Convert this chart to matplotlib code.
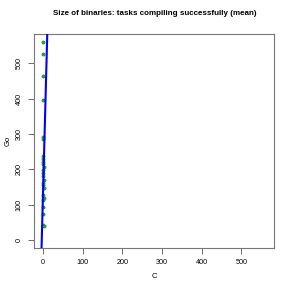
import numpy as np
import matplotlib
matplotlib.use("Agg")
import matplotlib.pyplot as plt

plt.rcParams['font.family'] = ['Liberation Sans', 'DejaVu Sans']

# size of binaries (mean), one point per task
go_size = [559, 527, 465, 395, 291, 285, 238, 230, 222, 214, 206, 198, 190, 182,
           170, 162, 155, 148, 128, 120, 112, 94, 75, 42, 40]
c_size = [1.2, 1.0, 1.3, 1.1, 1.4, 1.2, 1.0, 1.5, 1.2, 1.1, 1.6, 1.3, 1.0, 1.4,
          1.8, 1.5, 1.2, 1.7, 1.3, 1.6, 1.1, 1.4, 1.5, 1.2, 1.6]
# fitted line Go = a + b * C
fit_a, fit_b = 118.0, 42.0

fig = plt.figure(figsize=(2.91, 2.91), dpi=100)
ax = fig.add_axes([0.1168, 0.1478, 0.8247, 0.7354])

ax.scatter(c_size, go_size, s=8, color='#2ca02c', zorder=3, linewidths=0)
lims = (-22.4, 582.4)
xs = np.array(lims)
ax.plot(xs, fit_a + fit_b * xs, color='blue', lw=1.5, zorder=4)

ax.set_xlim(lims)
ax.set_ylim(lims)
ticks = [0, 100, 200, 300, 400, 500]
ax.set_xticks(ticks)
ax.set_yticks(ticks)
ax.tick_params(labelsize=5.2, length=4, width=0.6, color='#555555', pad=4)
for lab in ax.get_yticklabels():
    lab.set_rotation(90)
    lab.set_va('center')
for sp in ax.spines.values():
    sp.set_color('#777777')
    sp.set_linewidth(0.8)

fig.text(0.532, 1 - 277 / 291, 'C', ha='center', va='center', fontsize=5.5)
fig.text(8 / 291, 1 - 141 / 291, 'Go', ha='center', va='center', fontsize=5.5,
         rotation=90)
fig.text(0.532, 0.952, 'Size of binaries: tasks compiling successfully (mean)',
         ha='center', va='center', fontsize=5.8, fontweight='bold')

fig.savefig('out.png', dpi=100)
